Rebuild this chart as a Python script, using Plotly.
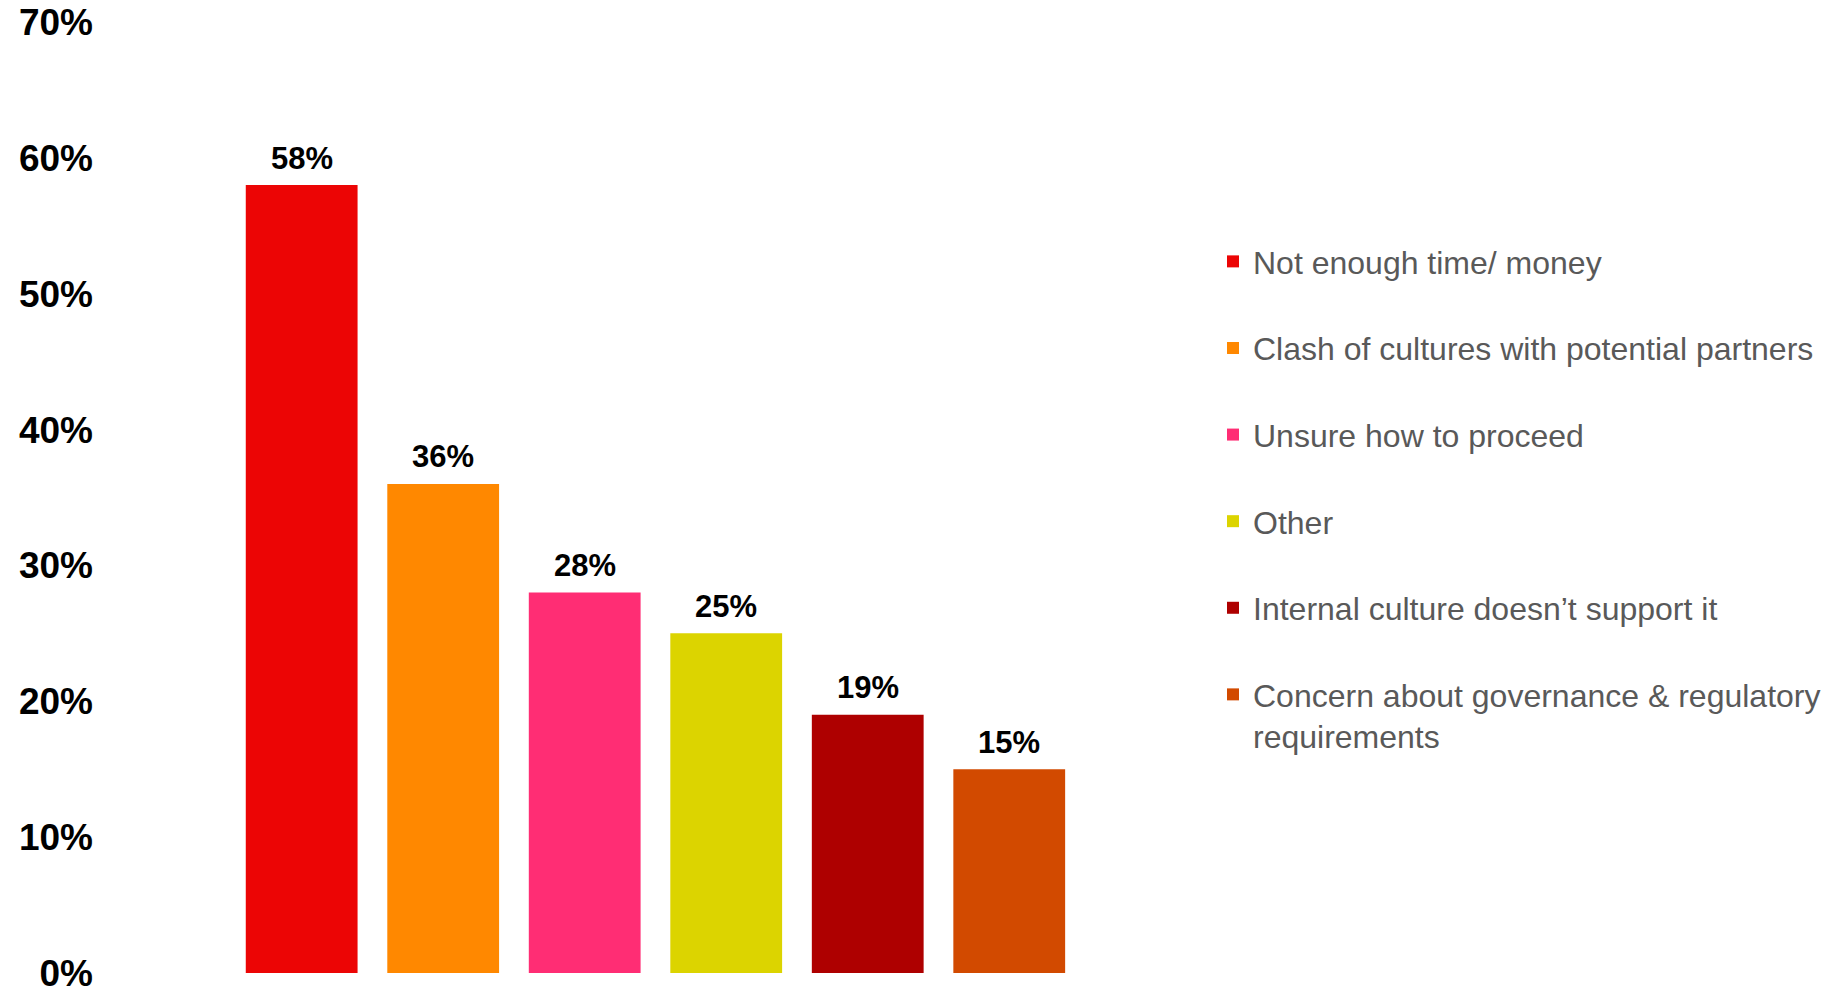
import plotly.graph_objects as go

categories = [
    "Not enough time/ money",
    "Clash of cultures with potential partners",
    "Unsure how to proceed",
    "Other",
    "Internal culture doesn\u2019t support it",
    "Concern about governance & regulatory<br>requirements",
]
values = [58, 36, 28, 25, 19, 15]
colors = ["#EC0505", "#FF8800", "#FF2D74", "#DCD400", "#AE0000", "#D24A00"]
y_ticks = [0, 10, 20, 30, 40, 50, 60, 70]
y_tick_labels = [f"{t}%" for t in y_ticks]

W, H = 1843, 990
ML, MR, MT, MB = 86, 771, 14, 25

fig = go.Figure()
for i, (name, v, c) in enumerate(zip(categories, values, colors)):
    fig.add_trace(go.Bar(
        x=[i], y=[v], name=name, marker_color=c, marker_line_width=0,
        legendgroup=f"g{i}", width=0.79,
    ))
    fig.add_annotation(
        x=i, y=v, text=f"{v}%", showarrow=False, xanchor="center", yanchor="middle",
        yshift=27,
        font=dict(family="Liberation Sans, Arial", size=31, color="#000000", weight="bold"),
    )

fig.update_layout(
    width=W, height=H,
    margin=dict(l=ML, r=MR, t=MT, b=MB, autoexpand=False),
    paper_bgcolor="white", plot_bgcolor="white",
    barmode="overlay",
    showlegend=True,
    legend=dict(
        x=1.1349, y=0.777, xanchor="left", yanchor="top",
        font=dict(family="Liberation Sans, Arial", size=32, color="#595959"),
        tracegroupgap=42, valign="top", bgcolor="rgba(0,0,0,0)",
    ),
    xaxis=dict(range=[-1.4675, 5.5], showticklabels=False, showgrid=False,
               zeroline=False, showline=False, ticks=""),
    yaxis=dict(range=[0, 70], tickvals=y_ticks, ticktext=y_tick_labels,
               showgrid=False, zeroline=False, showline=False, ticks="",
               ticklabeloverflow="allow",
               tickfont=dict(family="Liberation Sans, Arial", size=37, color="#000000", weight="bold")),
)

fig.write_html("out.html")
